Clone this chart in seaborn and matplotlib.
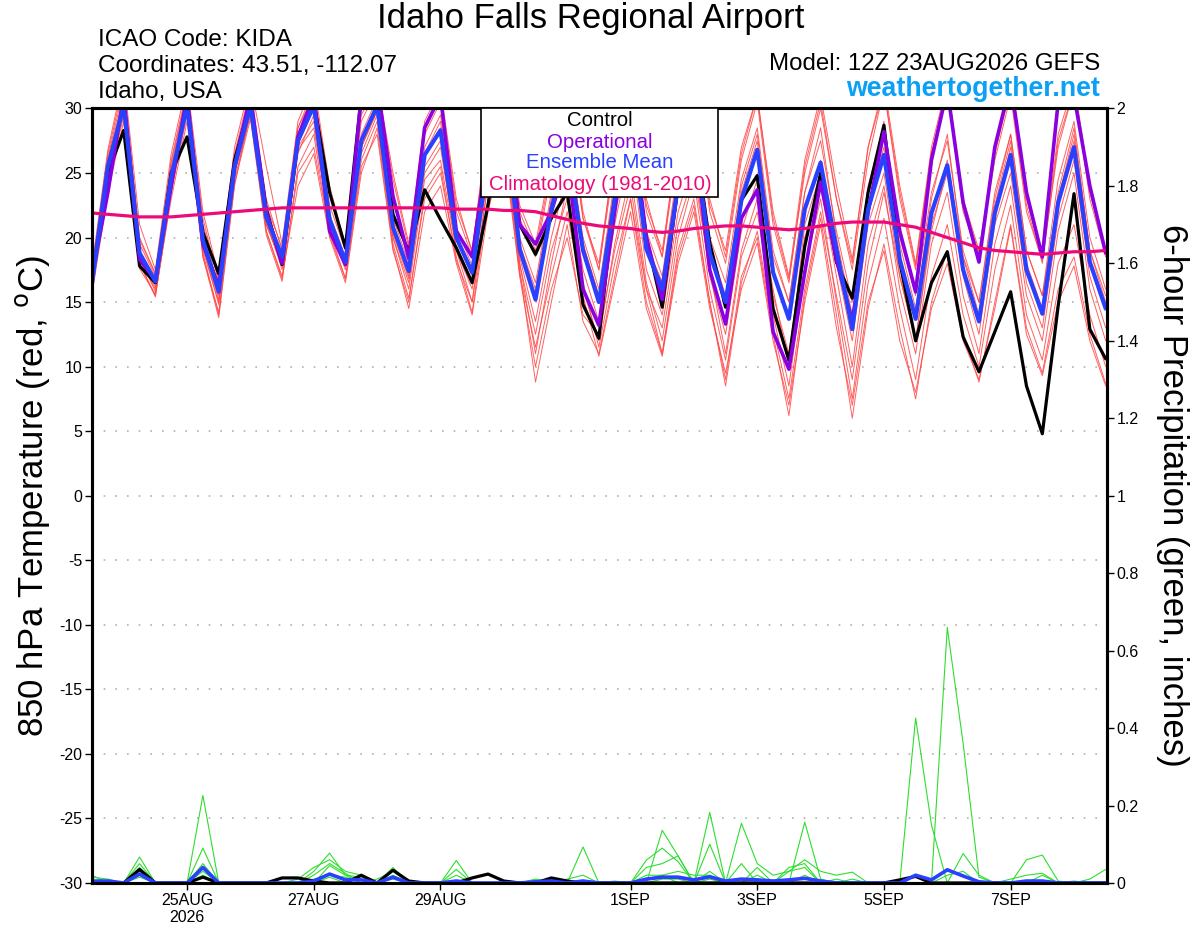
# GEFS meteogram for KIDA: 850 hPa temperature + 6-hour precipitation

import pandas as pd
import matplotlib
matplotlib.use("Agg")
import matplotlib.pyplot as plt
import matplotlib.patches as mpatches
import seaborn as sns

sns.set_style("ticks")
plt.rcParams['font.family'] = ['Liberation Sans', 'DejaVu Sans']
plt.rcParams.update({"text.color": "black", "axes.edgecolor": "black",
                     "axes.labelcolor": "black", "xtick.color": "black",
                     "ytick.color": "black", "axes.unicode_minus": False})

# forecast times (run 12Z 23AUG2026, every 6 h)
times = pd.date_range("2026-08-23 12:00", periods=65, freq="6h")

# 850 hPa temperature (C)
control = [16.8, 25, 28.3, 17.8, 16.5, 25, 27.8, 20.4, 17.2, 26,
           30.5, 22.2, 17.9, 27.5, 30.5, 23.5, 19.2, 31, 32, 21.8,
           18.9, 23.7, 21.4, 19.2, 16.5, 22.5, 30, 21, 18.7, 21.5,
           23.5, 14.8, 12.2, 23, 29, 20, 14.6, 24, 28, 19.6,
           14.6, 22.9, 24.8, 14.5, 10.5, 19.3, 25, 18.1, 15.3, 23.5,
           28.7, 18.1, 12, 16.5, 18.9, 12.3, 9.6, 12.7, 15.8, 8.5,
           4.8, 14.7, 23.4, 12.9, 10.6]
operational = [17, 23.5, 31, 18.3, 16.7, 24, 31, 19.5, 16.2, 25.5,
               31, 22, 18, 27.8, 31, 20.5, 17.9, 31, 32, 23.2,
               18.4, 28.5, 31, 20.5, 18.5, 27, 31, 21, 19.5, 22,
               26, 16, 13.2, 22, 30, 20, 15.2, 24, 28, 17.5,
               13.3, 21.5, 23.7, 12.7, 9.8, 17.3, 24.3, 18.3, 13.5, 22,
               28.2, 20.5, 15.8, 26, 31.5, 22.7, 18.1, 27, 32, 23.5,
               18.5, 30.5, 31, 24, 18.8]
ens_mean = [16.5, 25.5, 30.2, 18.8, 16.6, 24.7, 30.2, 19.8, 15.8, 25.5,
            30.2, 21.6, 18.5, 27.5, 30.2, 21.4, 18.1, 27.5, 30.2, 20.8,
            17.4, 26.4, 28.3, 20, 17.3, 26, 30, 19.1, 15.2, 22.2,
            27, 19, 15, 23, 29, 19.1, 16, 24, 28, 18.8,
            15, 22.9, 26.8, 17.3, 13.7, 22.2, 25.8, 19.1, 12.9, 22.2,
            26.4, 18.3, 13.7, 21.9, 25.6, 17.5, 13.5, 21.9, 26.4, 17.5,
            14.1, 22.7, 27, 18.1, 14.5]
climatology = [21.9, 21.8, 21.7, 21.6, 21.6, 21.6, 21.7, 21.8, 21.9, 22.0,
               22.1, 22.2, 22.3, 22.3, 22.3, 22.3, 22.3, 22.3, 22.3, 22.3,
               22.3, 22.3, 22.3, 22.2, 22.2, 22.2, 22.1, 22.1, 22.0, 21.7,
               21.4, 21.1, 20.9, 20.8, 20.7, 20.5, 20.4, 20.5, 20.7, 20.8,
               20.9, 20.9, 20.8, 20.7, 20.6, 20.7, 20.9, 21.1, 21.2, 21.2,
               21.2, 21.0, 20.8, 20.4, 20.0, 19.6, 19.2, 19.0, 18.9, 18.8,
               18.7, 18.8, 18.9, 18.9, 19.0]

# ensemble members (red)
m01 = [17.5, 26.5, 32, 20, 17.2, 26, 31.5, 21, 16.8, 26.5,
       31.5, 23, 19, 28.5, 31, 22.5, 19, 29, 31.5, 23,
       18.8, 28, 30.5, 22, 18.5, 28, 31, 21.5, 18.5, 25,
       30, 21.5, 17.5, 26, 31, 22, 18.5, 27, 31, 22,
       18, 26, 30.5, 21, 16.5, 25.5, 30.5, 23, 17.5, 26,
       31.5, 23, 17.5, 26.5, 31.5, 22, 18.5, 26.5, 31.5, 22.5,
       18, 27.5, 31.5, 23, 18.5]
m02 = [16, 24, 29.5, 18, 15.5, 23.5, 29.5, 18.8, 14, 24.5,
       29.5, 20.5, 16.8, 25, 27, 20.5, 16.8, 26, 29, 19.5,
       15.3, 23, 25, 18.5, 14.2, 23, 28, 17.5, 8.8, 15,
       21, 13.5, 11, 17, 23, 15, 11, 19, 23, 15,
       9, 17, 20, 12.5, 6.2, 15.5, 21.5, 14, 6, 14.5,
       19.5, 13, 7.5, 15, 19, 12.5, 8.8, 15, 21, 13,
       9.5, 16, 18.5, 12.5, 8.7]
m03 = [16.8, 26, 31, 19.5, 17, 25, 30.5, 20.5, 16.2, 26,
       30.8, 22, 18.8, 28, 31, 21.8, 18.5, 28, 30.8, 21.5,
       18, 27, 29.5, 20.8, 17.8, 27, 30.5, 20, 16.5, 23.5,
       28, 20, 16, 24.5, 30, 20.5, 17, 25.5, 29.5, 20,
       16.5, 24.5, 28.5, 19, 15, 23.5, 27.5, 20.5, 15, 24,
       28.5, 20, 15.5, 23.5, 27.5, 19, 15, 23.5, 28, 19,
       15.5, 24.5, 29, 20, 16]
m04 = [16.2, 25, 29.8, 18.3, 16, 24, 29.8, 19, 15, 25,
       29.5, 21, 17.8, 26.5, 29.5, 20.8, 17.5, 26.5, 29.5, 20,
       16.5, 25, 27, 19.2, 16.5, 25, 29, 18.5, 13.5, 20,
       25, 17.5, 13.5, 21, 27, 17.5, 14, 22, 26, 17,
       12.5, 20.5, 24.5, 15.5, 11, 20, 24, 17, 10, 19.5,
       24, 16, 11, 19.5, 23.5, 15.5, 11, 19.5, 24, 15.5,
       12, 20.5, 25, 16, 12]
m05 = [17, 25.8, 30.5, 19, 16.8, 25.5, 31, 20, 15.5, 25.8,
       31, 21.8, 18.5, 27.8, 30.5, 21.5, 18.3, 27.5, 30.5, 21,
       17.5, 26.5, 28.5, 20.2, 17.5, 26.5, 30.5, 19.5, 16, 23,
       28.5, 19.5, 15.5, 24, 29.5, 19.5, 16.5, 25, 29, 19.5,
       15.5, 24, 28, 18.5, 15, 23.5, 28.5, 20, 14, 23.5,
       29, 19.5, 14.5, 23, 28, 18.5, 14, 22.5, 27.5, 18,
       14.5, 23.5, 28.5, 19, 15]
m06 = [16.4, 25.2, 30, 18.5, 15.8, 24.3, 30, 19.3, 14.8, 25.2,
       30, 21.3, 17.5, 26.8, 28.5, 21, 17.8, 27, 29.8, 20.3,
       16.8, 25.5, 27.5, 19, 15, 24.5, 29, 18, 11, 18,
       24, 16, 12, 19.5, 25, 16.5, 12, 20, 24.5, 16,
       10.5, 18.5, 22, 14, 8.5, 17.5, 23, 15, 7.5, 16.5,
       21.5, 14.5, 9, 17, 21, 14, 10, 17.5, 22.5, 14,
       10.5, 18, 21, 14, 10]
m07 = [17.2, 26.2, 31.5, 19.8, 17.2, 25.8, 31.2, 21.5, 16.5, 26.2,
       31.2, 22.5, 19.2, 28.5, 31.5, 23.5, 19.5, 29.5, 31.8, 24.5,
       19.2, 28.5, 31, 22.5, 19, 28.5, 31.5, 22, 19, 25.5,
       30.5, 21.5, 18, 26.5, 31.5, 22.5, 19, 27.5, 31.5, 22.5,
       19, 27, 31, 22, 17, 26, 31, 24, 18.3, 27,
       32, 24, 18, 27, 32, 23, 19, 27, 32, 23,
       18.5, 28, 32, 24, 19]
m08 = [15.8, 24.5, 30, 18, 15.4, 23.5, 30.5, 18.5, 13.8, 24,
       30, 20.5, 17, 24, 26.5, 20, 16.5, 25, 28.5, 19.2,
       14.5, 22, 24, 18, 14, 22, 27, 17, 10, 16,
       20, 14, 12.5, 19, 24, 16, 13, 21, 25, 17.5,
       11, 19, 23, 16, 10, 21, 25, 18, 12, 21,
       25, 17, 12, 21, 25, 17, 12.5, 21, 25, 16.5,
       13, 21.5, 26, 17, 13]
m09 = [16.6, 25.5, 30.5, 18.8, 16.5, 24.8, 30.3, 20, 15.8, 25.5,
       30.5, 21.5, 18.3, 27.2, 30, 21.2, 18, 27.8, 30.2, 20.5,
       17, 26.5, 29, 19.8, 17, 26, 30, 19, 15.5, 22.5,
       27.5, 19.5, 15.5, 23.5, 29, 19.5, 16.5, 24.5, 28.5, 19,
       15, 23.5, 27.5, 17.5, 14, 22.5, 26, 19, 13.5, 22.5,
       27, 18.5, 14, 22, 26, 17.5, 13.5, 22, 27, 17.5,
       14, 23, 27.5, 18, 14.5]
m10 = [16, 24.8, 29.5, 18.2, 16.2, 24.5, 29.8, 19.5, 15.2, 25,
       29.8, 21, 18, 27, 29, 21, 18, 27, 29.8, 20,
       16, 24.5, 26, 19, 16, 24, 28, 18, 12.5, 19,
       23, 16.5, 11.5, 18, 23, 16, 11, 18.5, 22.5, 15,
       8.5, 16.5, 20.5, 13, 7.5, 16, 22, 15.5, 9, 18,
       23.5, 17, 12, 20.5, 25.5, 18.5, 15, 23, 28, 19,
       15.5, 23, 28, 19, 15.5]
m11 = [17.8, 26.8, 32.5, 21, 17.5, 26.5, 32, 22, 17, 27,
       32, 25.5, 19.5, 29, 32, 24, 19.3, 30, 32, 25,
       19.5, 29, 31.5, 23, 18.8, 29, 32, 22.5, 19.5, 26,
       31, 22, 17.5, 27, 32, 23, 18.5, 28, 32, 23,
       18.5, 26.5, 31, 21.5, 16.8, 25, 30, 23, 18, 27,
       31.5, 23.5, 17.8, 26.5, 31.5, 22.5, 18.8, 26, 31, 22,
       18.2, 27, 31.5, 23.5, 18.8]
m12 = [15.6, 23.5, 29, 17.6, 15.6, 23, 29, 18.5, 14.2, 24.2,
       29.2, 20.2, 16.6, 25.5, 28, 20.2, 16.8, 25.5, 28, 19,
       15, 23.5, 25.5, 18.2, 15, 23, 27.5, 17.2, 11.5, 17,
       22, 15.5, 10.8, 16.5, 22, 14.5, 10.8, 18, 22, 14.5,
       9.5, 16, 19.6, 12, 7, 15, 21, 13, 7, 15,
       19, 12, 8, 14.5, 18, 12, 9, 14.5, 20.8, 12.5,
       9.3, 15, 17.8, 12, 8.5]

# 6-hour precipitation (inches): members (green), control, mean
p01 = [.02, 0, 0, .067, 0, 0, 0, .226, 0, 0,
       0, 0, 0, 0, .03, .077, .02, 0, 0, 0,
       0, 0, 0, .058, 0, 0, 0, 0, 0, 0,
       0, .093, 0, 0, 0, 0, .136, .07, 0, .182,
       0, .05, 0, 0, 0, .157, .01, 0, 0, 0,
       0, 0, 0, 0, .66, .36, .015, 0, 0, 0,
       .02, 0, 0, 0, 0]
p02 = [.015, .01, 0, .05, 0, 0, 0, .09, 0, 0,
       0, 0, 0, .01, .04, .06, .03, .02, 0, .04,
       0, 0, 0, .035, 0, 0, 0, 0, 0, .01,
       0, 0, 0, 0, 0, .059, .09, .055, 0, .1,
       0, .154, .05, .02, .03, .06, .03, .02, .028, 0,
       0, 0, .426, .15, 0, 0, 0, 0, 0, .06,
       .072, .005, 0, 0, 0]
p03 = [0, 0, 0, .04, 0, 0, 0, .05, 0, 0,
       0, 0, 0, 0, .02, .05, .025, 0, .01, .03,
       0, 0, 0, .02, 0, 0, 0, 0, 0, 0,
       .01, .02, 0, 0, 0, .04, .05, .07, 0, .03,
       0, 0, .04, 0, .04, .05, 0, 0, .01, 0,
       0, 0, 0, 0, 0, .076, .02, 0, 0, 0,
       0, 0, 0, .01, .035]
p04 = [0, 0, 0, .03, 0, 0, 0, .04, 0, 0,
       0, 0, 0, 0, 0, .045, .02, .015, 0, .02,
       0, 0, 0, 0, 0, 0, 0, 0, .01, .005,
       0, 0, 0, 0, 0, .02, .02, .03, .02, .02,
       0, 0, .02, 0, .03, .04, 0, .01, 0, 0,
       0, 0, 0, 0, 0, 0, 0, 0, .01, .02,
       .025, 0, .005, 0, 0]
p05 = [0, .005, 0, .02, 0, 0, 0, .03, 0, 0,
       0, 0, 0, 0, .01, .02, .015, 0, 0, .01,
       0, 0, 0, 0, 0, 0, 0, 0, 0, 0,
       0, 0, 0, 0, 0, 0, .01, .01, 0, .01,
       0, 0, 0, 0, 0, 0, 0, 0, 0, 0,
       0, 0, 0, 0, .02, .03, 0, 0, 0, 0,
       0, 0, 0, 0, 0]
p06 = [0, 0, 0, .015, 0, 0, 0, .02, 0, 0,
       0, 0, 0, 0, 0, .015, 0, 0, 0, 0,
       0, 0, 0, 0, 0, 0, 0, 0, .008, 0,
       0, 0, 0, .005, 0, .01, .02, 0, 0, 0,
       .005, 0, 0, 0, 0, .02, 0, 0, 0, 0,
       0, 0, 0, 0, 0, 0, 0, 0, 0, 0,
       0, 0, 0, 0, 0]
precip_control = [0, 0, 0, .035, 0, 0, 0, .015, 0, 0,
                  0, 0, .013, .013, .005, 0, 0, .02, 0, .033,
                  .005, 0, 0, 0, .013, .023, .005, 0, 0, .013,
                  .005, 0, 0, 0, 0, 0, 0, 0, 0, 0,
                  0, 0, 0, 0, 0, 0, 0, 0, 0, 0,
                  0, .008, .017, 0, 0, 0, 0, 0, 0, 0,
                  0, 0, 0, 0, 0]
precip_mean = [.005, .005, 0, .023, 0, 0, 0, .04, 0, 0,
               0, 0, 0, 0, .005, .023, .008, .008, 0, .015,
               0, 0, 0, .005, 0, 0, 0, 0, .003, .005,
               0, .005, 0, 0, 0, .01, .015, .015, .008, .016,
               .005, .01, .008, .005, .008, .012, .005, 0, 0, 0,
               0, 0, .02, .008, .034, .018, .003, 0, 0, .005,
               .005, 0, 0, 0, 0]

tick_days = ["2026-08-25", "2026-08-27", "2026-08-29", "2026-09-01",
             "2026-09-03", "2026-09-05", "2026-09-07"]
tick_labels = ["25AUG\n2026", "27AUG", "29AUG", "1SEP", "3SEP", "5SEP", "7SEP"]

# long tables for seaborn
temp_members = [m01, m02, m03, m04, m05, m06, m07, m08, m09, m10, m11, m12]
ens = pd.DataFrame([(t, k, v) for k, vals in enumerate(temp_members)
                    for t, v in zip(times, vals)], columns=["time", "member", "temp"])
precip_members = [p01, p02, p03, p04, p05, p06]
pens = pd.DataFrame([(t, k, v) for k, vals in enumerate(precip_members)
                     for t, v in zip(times, vals)], columns=["time", "member", "precip"])

RED = "#ff4545"
GREEN = "#2ede2e"
PURPLE = "#8a00e0"
BLUE = "#2a40ff"
MAGENTA = "#ec0a7a"

fig = plt.figure(figsize=(12, 9.27), dpi=100)
ax = fig.add_axes([0.0767, 0.0475, 0.8458, 0.8355])
ax2 = ax.twinx()

# temperature
sns.lineplot(data=ens, x="time", y="temp", units="member", estimator=None,
             color=RED, lw=0.7, alpha=0.85, legend=False, ax=ax)
sns.lineplot(x=times, y=control, color="black", lw=2.3, ax=ax)
sns.lineplot(x=times, y=operational, color=PURPLE, lw=2.6, ax=ax)
sns.lineplot(x=times, y=ens_mean, color=BLUE, lw=3.0, ax=ax)
sns.lineplot(x=times, y=climatology, color=MAGENTA, lw=2.3, ax=ax)

# precipitation
sns.lineplot(data=pens, x="time", y="precip", units="member", estimator=None,
             color=GREEN, lw=0.8, legend=False, ax=ax2)
sns.lineplot(x=times, y=precip_control, color="black", lw=2.3, ax=ax2)
sns.lineplot(x=times, y=precip_mean, color=BLUE, lw=2.6, ax=ax2)

ax.set_xlim(times[0], times[-1] + pd.Timedelta(hours=0.5))
ax.set_ylim(-30, 30)
ax.set_yticks(range(-30, 31, 5))
ax2.set_ylim(0, 2)
ax2.set_yticks([i / 5 for i in range(11)])
ax2.set_yticklabels([f"{i / 5:g}" for i in range(11)])
ax.set_xticks(pd.to_datetime(tick_days))
ax.set_xticklabels(tick_labels)
ax.set_xlabel("")
ax.set_ylabel("")
ax2.set_ylabel("")

ax.yaxis.grid(True, color="#b0b0b0", lw=1.2, linestyle=(0, (1, 6)))
for a in (ax, ax2):
    for s in a.spines.values():
        s.set_linewidth(2.2)
        s.set_color("black")
    a.tick_params(labelsize=11.5, length=5, width=1, pad=2, colors="black")

# header
fig.text(0.492, 0.980, "Idaho Falls Regional Airport", fontsize=25,
         ha="center", va="center")
for y, s in [(0.9569, "ICAO Code: KIDA"), (0.9288, "Coordinates: 43.51, -112.07"),
             (0.9008, "Idaho, USA")]:
    fig.text(0.0817, y, s, fontsize=17.5, ha="left", va="center")
fig.text(0.9167, 0.931, "Model: 12Z 23AUG2026 GEFS", fontsize=17.3,
         ha="right", va="center")
fig.text(0.9167, 0.904, "weathertogether.net", fontsize=19.3, fontweight="bold",
         color="#0aa0f5", ha="right", va="center")

# axis titles
fig.text(0.027, 0.465, r"850 hPa Temperature (red, $^{\mathrm{o}}$C)", fontsize=25,
         rotation=90, ha="center", va="center")
fig.text(0.977, 0.466, "6-hour Precipitation (green, inches)", fontsize=25,
         rotation=270, ha="center", va="center")

# legend box
fig.patches.append(mpatches.Rectangle((0.4008, 0.7875), 0.1975, 0.0955,
                                      transform=fig.transFigure, facecolor="white",
                                      edgecolor="black", lw=1.2, zorder=5))
for y, s, c in [(0.8695, "Control", "black"), (0.8468, "Operational", PURPLE),
                (0.8242, "Ensemble Mean", BLUE),
                (0.8005, "Climatology (1981-2010)", MAGENTA)]:
    fig.text(0.5, y, s, fontsize=14.7, color=c, ha="center", va="center", zorder=6)

fig.savefig("out.png", dpi=100)
